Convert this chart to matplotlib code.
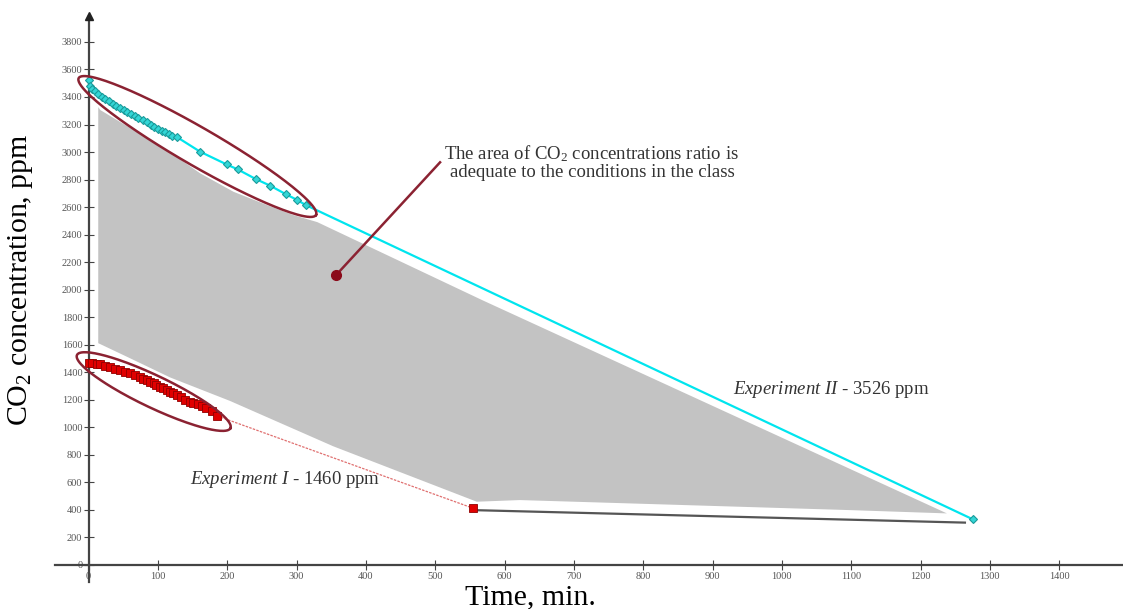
import numpy as np
import matplotlib.pyplot as plt

plt.rcParams['font.family'] = ['Liberation Serif', 'DejaVu Serif']
plt.rcParams['mathtext.fontset'] = 'custom'
plt.rcParams['mathtext.rm'] = 'Liberation Serif'
plt.rcParams['mathtext.it'] = 'Liberation Serif:italic'

# Experiment II (start 3526 ppm)
exp2_t = [0, 2, 5, 9, 14, 19, 24, 29, 35, 40, 45, 51, 56, 61, 67, 72, 78, 84,
          90, 95, 100, 106, 111, 116, 121, 127, 161, 199, 215, 241, 262, 285,
          301, 313, 1275]
exp2_v = [3526, 3480, 3460, 3440, 3420, 3400, 3385, 3370, 3350, 3335, 3320,
          3305, 3290, 3275, 3260, 3245, 3230, 3215, 3200, 3185, 3170, 3155,
          3145, 3130, 3120, 3110, 3002, 2910, 2874, 2804, 2755, 2692, 2651,
          2615, 330]

# Experiment I (start 1460 ppm)
exp1_t = [0, 5, 12, 17, 24, 31, 38, 45, 53, 60, 67, 74, 79, 84, 89, 94, 98,
          103, 108, 113, 118, 122, 127, 134, 139, 146, 151, 158, 163, 170,
          178, 186]
exp1_v = [1463, 1463, 1460, 1456, 1446, 1434, 1422, 1415, 1402, 1390, 1378,
          1366, 1349, 1342, 1330, 1318, 1305, 1293, 1281, 1269, 1257, 1245,
          1233, 1220, 1196, 1184, 1177, 1165, 1155, 1136, 1116, 1080]
exp1_end_t = [186, 555]
exp1_end_v = [1080, 409]

# lower boundary line
low_t = [562, 1264]
low_v = [395, 305]

# shaded area of adequate concentrations
area_t = [14, 17, 65, 113, 161, 209, 257, 295, 330, 569, 1238,
          1098, 622, 560, 353, 204, 118, 60, 14]
area_v = [3327, 3305, 3160, 3015, 2845, 2711, 2615, 2542, 2490, 1920, 372,
          396, 469, 457, 860, 1190, 1360, 1500, 1610]

x_ticks = np.arange(0, 1401, 100)
y_ticks = np.arange(0, 3801, 200)

fig = plt.figure(figsize=(11.23, 6.09), dpi=100)
ax = fig.add_axes([40 / 1123, 19 / 609, 1083 / 1123, 585 / 609])
ax.set_xlim(-70, 1492)
ax.set_ylim(-185, 4069)

ax.fill(area_t, area_v, color='#c3c3c3', lw=0, zorder=1)

# axes as crossing lines
for s in ['top', 'right']:
    ax.spines[s].set_visible(False)
ax.spines['left'].set_position(('data', 0))
ax.spines['bottom'].set_position(('data', 0))
ax.spines['left'].set_bounds(-125, 3990)
ax.spines['bottom'].set_bounds(-48, 1492)
for s in ['left', 'bottom']:
    ax.spines[s].set_linewidth(1.6)
    ax.spines[s].set_color('#444444')
ax.plot([0], [3990], marker='^', color='#222222', ms=6, clip_on=False, zorder=5)

ax.set_xticks(x_ticks)
ax.set_yticks(y_ticks)
ax.tick_params(direction='inout', length=7, width=0.8, colors='#444444',
               labelsize=7.5, labelcolor='#555555')
ax.tick_params(axis='y', pad=1)
ax.tick_params(axis='x', pad=2)

# data
ax.plot(exp2_t, exp2_v, color='#00e5ee', lw=1.6, marker='D', ms=4.5,
        mfc='#33d6d6', mec='#1a9a9a', mew=0.8, zorder=4)
ax.plot(exp1_end_t, exp1_end_v, color='#e07070', lw=0.9, ls=(0, (2, 1)), zorder=3)
ax.plot(exp1_t, exp1_v, ls='none', marker='s', ms=6, mfc='#e00000',
        mec='#900000', mew=0.6, zorder=4)
ax.plot([exp1_end_t[1]], [exp1_end_v[1]], ls='none', marker='s', ms=6,
        mfc='#e00000', mec='#900000', mew=0.6, zorder=4)
ax.plot(low_t, low_v, color='#555555', lw=1.6, zorder=3)


def pixel_ellipse(cx, cy, a, b, angle):
    # ellipse drawn in screen pixels around a data-space centre
    p0 = ax.transData.transform((0, 0))
    sx = ax.transData.transform((1, 0))[0] - p0[0]
    sy = ax.transData.transform((0, 1))[1] - p0[1]
    phi = np.linspace(0, 2 * np.pi, 200)
    th = np.radians(angle)
    dx = a * np.cos(phi) * np.cos(th) - b * np.sin(phi) * np.sin(th)
    dy = a * np.cos(phi) * np.sin(th) + b * np.sin(phi) * np.cos(th)
    ax.plot(cx + dx / sx, cy + dy / sy, color='#8b2232', lw=1.8, zorder=6)


pixel_ellipse(157, 3040, 137, 19, -30)
pixel_ellipse(94, 1258, 85, 16, -25.5)

# annotation pointer
ax.plot([357, 507], [2105, 2925], color='#8b2232', lw=1.8, zorder=6)
ax.plot([357], [2105], marker='o', ms=7, color='#8b0a1a', zorder=6)

ax.text(726, 2927, 'The area of CO$_2$ concentrations ratio is\n'
        'adequate to the conditions in the class',
        ha='center', va='center', fontsize=13.5, color='#333333',
        linespacing=1.05)
ax.text(1071, 1276, r'$\mathit{Experiment\ II}$ - 3526 ppm', ha='center',
        va='center', fontsize=13.5, color='#333333')
ax.text(283, 615, r'$\mathit{Experiment\ I}$ - 1460 ppm', ha='center',
        va='center', fontsize=13.5, color='#333333')

fig.text(530 / 1123, 1 - 597 / 609, 'Time, min.', ha='center', va='center',
         fontsize=21.5)
fig.text(21 / 1123, 1 - 280 / 609, 'CO$_2$ concentration, ppm', ha='center',
         va='center', rotation=90, fontsize=21.5)

plt.savefig('out.png', dpi=100)
